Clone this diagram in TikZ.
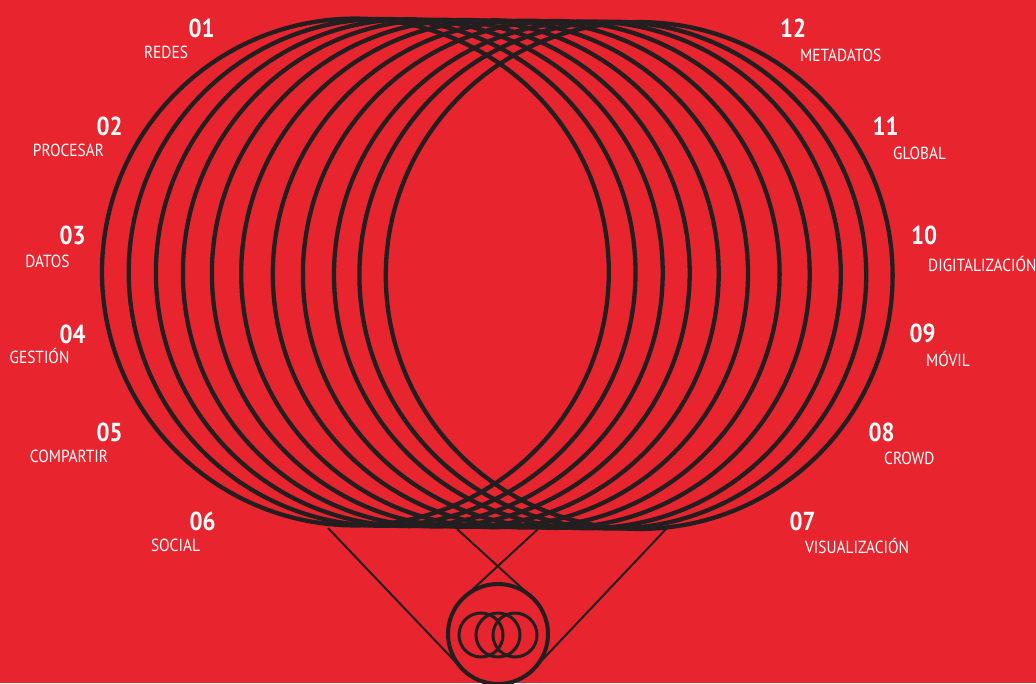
\documentclass[tikz,border=0pt]{standalone}
\usepackage{fontspec}
\setmainfont{PT Sans}[FakeStretch=0.88]
\usetikzlibrary{calc}
\definecolor{bgred}{RGB}{232,36,46}
\definecolor{ink}{RGB}{35,31,32}
\begin{document}
\begin{tikzpicture}[x=1pt,y=-1pt,
  num/.style={text=white,font=\fontsize{26}{26}\selectfont\bfseries,inner sep=0,anchor=base},
  lbl/.style={text=white,font=\fontsize{17.5}{17.5}\selectfont,inner sep=0},
  big/.style={draw=ink,line width=4.3pt},
  thin/.style={draw=ink,line width=2pt},
  hubst/.style={circle,draw=ink,line width=4pt,minimum size=100pt,inner sep=0,outer sep=0}]
\useasboundingbox (0,0) rectangle (1036,683);
\fill[bgred] (0,0) rectangle (1036,683);
% big circles
\foreach \cx [count=\i from 0] in {355.4,382.1,409.3,436.3,465.3,494.6,526.2,556.3,587.4,612.8,639.2}{
  \draw[big] (\cx,{272+0.35*\i}) circle[radius=253.4pt];
}
% hub
\node[hubst] (hub) at (498,634) {};
\foreach \cx in {481,498,515}{
  \draw[ink,line width=3pt] (\cx,635) circle[radius=22pt];
}
\coordinate (pa) at (328,528);
\coordinate (pb) at (457,529);
\coordinate (pc) at (538,529);
\coordinate (pd) at (667,528);
\draw[thin] (pa) -- (tangent cs:node=hub,point={(pa)},solution=1);
\draw[thin] (pd) -- (tangent cs:node=hub,point={(pd)},solution=2);
\draw[thin] (pb) -- (tangent cs:node=hub,point={(pb)},solution=2);
\draw[thin] (pc) -- (tangent cs:node=hub,point={(pc)},solution=1);
% numbers
\node[num] (n01) at (201.5,37) {01};
\node[num] (n02) at (109.5,135) {02};
\node[num] (n03) at (72.5,244) {03};
\node[num] (n04) at (72.5,343) {04};
\node[num] (n05) at (109.5,441) {05};
\node[num] (n06) at (202.5,530) {06};
\node[num] (n12) at (793,37) {12};
\node[num] (n11) at (885.5,135) {11};
\node[num] (n10) at (924,244) {10};
\node[num] (n09) at (922.5,342) {09};
\node[num] (n08) at (881.5,441) {08};
\node[num] (n07) at (802.5,530) {07};
% labels
\node[lbl,anchor=base] (t01) at (166,58) {REDES};
\node[lbl,anchor=base] (t02) at (68.5,156) {PROCESAR};
\node[lbl,anchor=base] (t03) at (47.5,267) {DATOS};
\node[lbl,anchor=base] (t04) at (39.5,363) {GESTIÓN};
\node[lbl,anchor=base] (t05) at (69,462) {COMPARTIR};
\node[lbl,anchor=base] (t06) at (175.5,551) {SOCIAL};
\node[lbl,anchor=base west] (t12) at (800,61) {METADATOS};
\node[lbl,anchor=base west] (t11) at (893,159) {GLOBAL};
\node[lbl,anchor=base west] (t10) at (928,271) {DIGITALIZACIÓN};
\node[lbl,anchor=base west] (t09) at (926,366) {MÓVIL};
\node[lbl,anchor=base west] (t08) at (884,464) {CROWD};
\node[lbl,anchor=base west] (t07) at (805,553) {VISUALIZACIÓN};
\end{tikzpicture}
\end{document}
